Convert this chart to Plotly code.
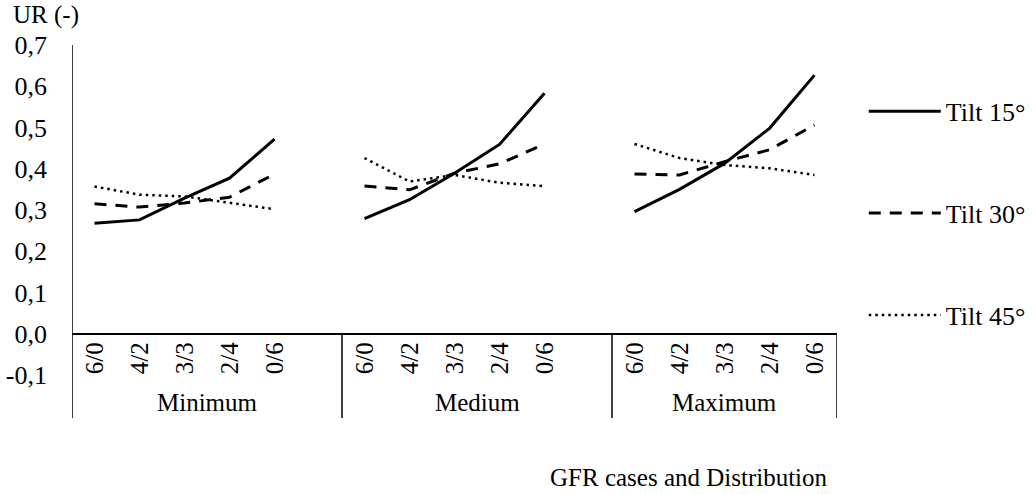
import plotly.graph_objects as go

# ---- data ----
groups = ["Minimum", "Medium", "Maximum"]
cases = ["6/0", "4/2", "3/3", "2/4", "0/6"]
series_names = ["Tilt 15°", "Tilt 30°", "Tilt 45°"]

tilt15 = [0.268, 0.276, 0.329, 0.377, 0.472,
          0.279, 0.325, 0.389, 0.459, 0.583,
          0.296, 0.350, 0.413, 0.498, 0.627]
tilt30 = [0.315, 0.307, 0.317, 0.331, 0.387,
          0.358, 0.349, 0.389, 0.412, 0.460,
          0.387, 0.385, 0.417, 0.446, 0.506]
tilt45 = [0.357, 0.337, 0.333, 0.317, 0.302,
          0.426, 0.369, 0.385, 0.366, 0.358,
          0.460, 0.426, 0.409, 0.401, 0.385]

y_tickvals = [-0.1, 0.0, 0.1, 0.2, 0.3, 0.4, 0.5, 0.6, 0.7]
y_ticktext = ["-0,1", "0,0", "0,1", "0,2", "0,3", "0,4", "0,5", "0,6", "0,7"]

FONT = "Liberation Serif, Times New Roman, serif"
SLOTS_PER_GROUP = len(cases) + 1  # blank slot between groups
n_slots = SLOTS_PER_GROUP * len(groups) - 1


def build_xy(values):
    xs, ys = [], []
    for gi in range(len(groups)):
        for ci in range(len(cases)):
            xs.append(gi * SLOTS_PER_GROUP + ci)
            ys.append(values[gi * len(cases) + ci])
        if gi < len(groups) - 1:
            xs.append(gi * SLOTS_PER_GROUP + len(cases))
            ys.append(None)
    return xs, ys


styles = [
    dict(color="black", width=3, dash="solid"),
    dict(color="black", width=3, dash="12px,9px"),
    dict(color="black", width=2.5, dash="2.5px,4px"),
]

fig = go.Figure()
for name, vals, st, grp in zip(series_names, [tilt15, tilt30, tilt45], styles, ["a", "b", "c"]):
    xs, ys = build_xy(vals)
    fig.add_trace(go.Scatter(x=xs, y=ys, mode="lines", name=name, line=st,
                             connectgaps=False, legendgroup=grp))

annotations = []
shapes = []
# category labels (rotated)
for gi in range(len(groups)):
    for ci, c in enumerate(cases):
        annotations.append(dict(x=gi * SLOTS_PER_GROUP + ci, y=-0.0605, xref="x", yref="y",
                                text=c, textangle=-90, showarrow=False,
                                font=dict(family=FONT, size=25, color="black"),
                                xanchor="center", yanchor="middle"))
# group labels and separators
for gi, g in enumerate(groups):
    start = gi * SLOTS_PER_GROUP - 0.5
    end = min(start + SLOTS_PER_GROUP, n_slots - 0.5)
    annotations.append(dict(x=(start + end) / 2, y=-0.082, xref="x", yref="paper",
                            text=g, showarrow=False,
                            font=dict(family=FONT, size=25, color="black"),
                            xanchor="center", yanchor="middle"))
    shapes.append(dict(type="line", xref="x", yref="paper", x0=end, x1=end, y0=0.124, y1=-0.13,
                       line=dict(color="black", width=1.5)))
# left axis line
shapes.append(dict(type="line", xref="x", yref="paper", x0=-0.5, x1=-0.5, y0=1, y1=-0.13,
                   line=dict(color="black", width=1.5)))

annotations.append(dict(x=-0.0797, y=1.092, xref="paper", yref="paper", text="UR (-)",
                        showarrow=False, xanchor="left", yanchor="middle",
                        font=dict(family=FONT, size=25, color="black")))
annotations.append(dict(x=0.991, y=-0.31, xref="paper", yref="paper",
                        text="GFR cases and Distribution",
                        showarrow=False, xanchor="right", yanchor="middle",
                        font=dict(family=FONT, size=25, color="black")))

fig.update_layout(
    width=1034, height=494,
    margin=dict(l=72, r=197, t=45, b=119, autoexpand=False),
    plot_bgcolor="white", paper_bgcolor="white",
    font=dict(family=FONT, size=25, color="black"),
    showlegend=True,
    legend=dict(x=1.035, xanchor="left", y=0.87, yanchor="top",
                itemwidth=72, tracegroupgap=65,
                font=dict(family=FONT, size=26, color="black"),
                bgcolor="rgba(0,0,0,0)"),
    annotations=annotations,
    shapes=shapes,
)
fig.update_xaxes(range=[-0.5, n_slots - 0.5], showgrid=False, zeroline=False,
                 showticklabels=False, showline=False, ticks="", automargin=False)
fig.update_yaxes(range=[-0.1, 0.7], tickvals=y_tickvals, ticktext=y_ticktext,
                 showgrid=False, zeroline=True, zerolinecolor="black", zerolinewidth=1.5,
                 showline=False, ticks="", ticklabelstandoff=24, automargin=False,
                 tickfont=dict(family=FONT, size=26, color="black"))

# remove the browser's default 8px body margin so the figure fills the window
fig.write_html("out.html", config={"displayModeBar": False},
               post_script="document.body.style.margin='0';")
